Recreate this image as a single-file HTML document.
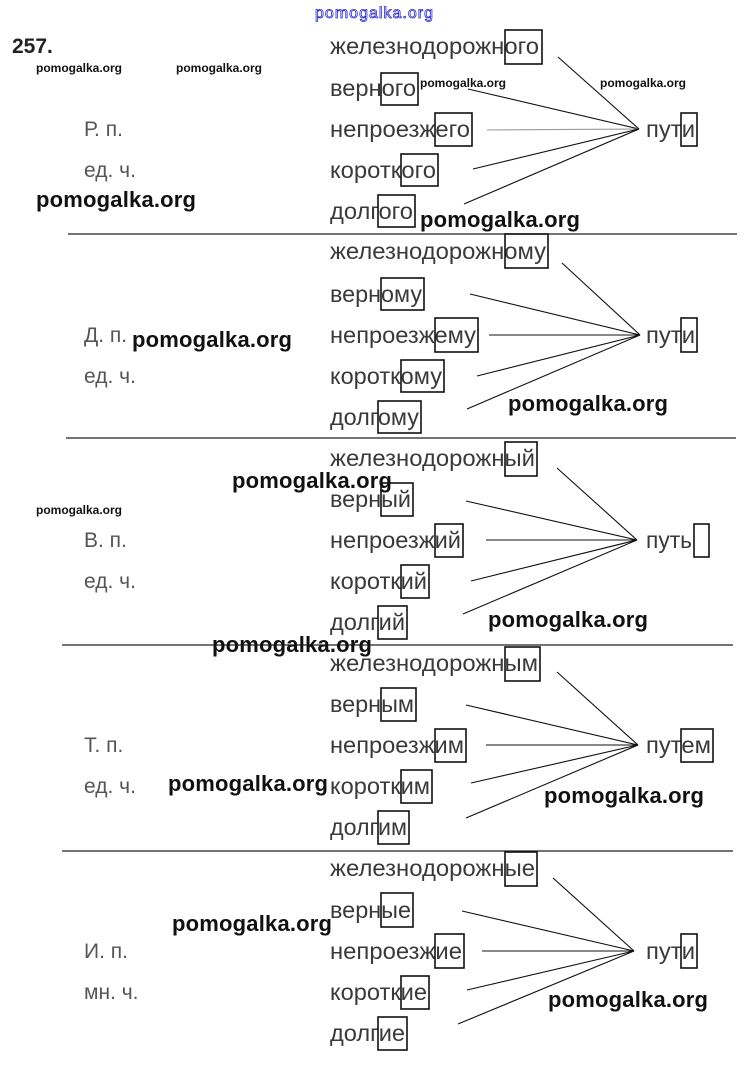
<!DOCTYPE html>
<html><head><meta charset="utf-8"><style>
html,body{margin:0;padding:0;background:#fff;width:746px;height:1066px;overflow:hidden}
svg{display:block}
.w{font-family:"Liberation Sans","DejaVu Sans",sans-serif;font-size:23px;fill:#3a3a3a}
.l{font-family:"Liberation Sans","DejaVu Sans",sans-serif;font-size:21px;fill:#555}
.b{fill:none;stroke:#111;stroke-width:1.6}
.ln{stroke:#111;stroke-width:1.1}
.m{font-family:"Liberation Sans",sans-serif;font-weight:bold;font-size:22px;fill:#111}
.s{font-family:"Liberation Sans",sans-serif;font-weight:bold;font-size:12px;fill:#111}
.sep{stroke:#222;stroke-width:1.2}
</style></head><body>
<svg width="746" height="1066" viewBox="0 0 746 1066" xmlns="http://www.w3.org/2000/svg">
<text x="315" y="18" font-family="Liberation Sans,sans-serif" font-size="16" fill="#fff" stroke="#2a2ad0" stroke-width="0.8" textLength="118">pomogalka.org</text>
<text x="12" y="53" font-family="Liberation Sans,sans-serif" font-weight="bold" font-size="21" fill="#222">257.</text>
<text class="s" x="36" y="72">pomogalka.org</text>
<text class="s" x="176" y="72">pomogalka.org</text>
<text class="s" x="420" y="87" font-size="13">pomogalka.org</text>
<text class="s" x="600" y="87" font-size="13">pomogalka.org</text>
<text class="s" x="36" y="514">pomogalka.org</text>

<line class="sep" x1="68" y1="234" x2="737" y2="234"/>
<line class="sep" x1="66" y1="438" x2="736" y2="438"/>
<line class="sep" x1="62" y1="645" x2="733" y2="645"/>
<line class="sep" x1="62" y1="851" x2="733" y2="851"/>

<text class="l" x="84" y="136">Р. п.</text>
<text class="l" x="84" y="177">ед. ч.</text>
<text class="w" x="330" y="54" textLength="209" lengthAdjust="spacingAndGlyphs">железнодорожного</text>
<text class="w" x="330" y="96" textLength="86" lengthAdjust="spacingAndGlyphs">верного</text>
<text class="w" x="330" y="137" textLength="140" lengthAdjust="spacingAndGlyphs">непроезжего</text>
<text class="w" x="330" y="178" textLength="106" lengthAdjust="spacingAndGlyphs">короткого</text>
<text class="w" x="330" y="219" textLength="83" lengthAdjust="spacingAndGlyphs">долгого</text>
<text class="w" x="646" y="137" textLength="49" lengthAdjust="spacingAndGlyphs">пути</text>
<rect class="b" x="505" y="30" width="37" height="34"/>
<rect class="b" x="381" y="73" width="37" height="32"/>
<rect class="b" x="435" y="113" width="37" height="33"/>
<rect class="b" x="401" y="154" width="37" height="32"/>
<rect class="b" x="378" y="195" width="37" height="32"/>
<rect class="b" x="681" y="113" width="16" height="33"/>
<line class="ln" x1="558" y1="57" x2="639" y2="129"/>
<line class="ln" x1="468" y1="89" x2="639" y2="129"/>
<line class="ln" x1="487" y1="130" x2="639" y2="129" style="stroke:#999"/>
<line class="ln" x1="473" y1="169" x2="639" y2="129"/>
<line class="ln" x1="464" y1="204" x2="639" y2="129"/>

<text class="l" x="84" y="342">Д. п.</text>
<text class="l" x="84" y="383">ед. ч.</text>
<text class="w" x="330" y="259" textLength="216" lengthAdjust="spacingAndGlyphs">железнодорожному</text>
<text class="w" x="330" y="302" textLength="92" lengthAdjust="spacingAndGlyphs">верному</text>
<text class="w" x="330" y="343" textLength="146" lengthAdjust="spacingAndGlyphs">непроезжему</text>
<text class="w" x="330" y="384" textLength="112" lengthAdjust="spacingAndGlyphs">короткому</text>
<text class="w" x="330" y="425" textLength="89" lengthAdjust="spacingAndGlyphs">долгому</text>
<text class="w" x="646" y="343" textLength="49" lengthAdjust="spacingAndGlyphs">пути</text>
<rect class="b" x="505" y="234" width="43" height="34"/>
<rect class="b" x="381" y="278" width="43" height="32"/>
<rect class="b" x="435" y="318" width="43" height="34"/>
<rect class="b" x="401" y="360" width="43" height="32"/>
<rect class="b" x="378" y="401" width="43" height="32"/>
<rect class="b" x="681" y="318" width="16" height="34"/>
<line class="ln" x1="562" y1="263" x2="640" y2="335"/>
<line class="ln" x1="470" y1="294" x2="640" y2="335"/>
<line class="ln" x1="489" y1="335" x2="640" y2="335"/>
<line class="ln" x1="477" y1="376" x2="640" y2="335"/>
<line class="ln" x1="467" y1="409" x2="640" y2="335"/>

<text class="l" x="84" y="547">В. п.</text>
<text class="l" x="84" y="588">ед. ч.</text>
<text class="w" x="330" y="466" textLength="205" lengthAdjust="spacingAndGlyphs">железнодорожный</text>
<text class="w" x="330" y="507" textLength="81" lengthAdjust="spacingAndGlyphs">верный</text>
<text class="w" x="330" y="548" textLength="131" lengthAdjust="spacingAndGlyphs">непроезжий</text>
<text class="w" x="330" y="589" textLength="97" lengthAdjust="spacingAndGlyphs">короткий</text>
<text class="w" x="330" y="630" textLength="75" lengthAdjust="spacingAndGlyphs">долгий</text>
<text class="w" x="646" y="548" textLength="46" lengthAdjust="spacingAndGlyphs">путь</text>
<rect class="b" x="505" y="442" width="32" height="34"/>
<rect class="b" x="381" y="483" width="32" height="33"/>
<rect class="b" x="435" y="524" width="28" height="33"/>
<rect class="b" x="401" y="565" width="28" height="33"/>
<rect class="b" x="378" y="606" width="29" height="33"/>
<rect class="b" x="694" y="524" width="15" height="33"/>
<line class="ln" x1="557" y1="468" x2="637" y2="540"/>
<line class="ln" x1="466" y1="501" x2="637" y2="540"/>
<line class="ln" x1="486" y1="540" x2="637" y2="540"/>
<line class="ln" x1="471" y1="581" x2="637" y2="540"/>
<line class="ln" x1="463" y1="614" x2="637" y2="540"/>

<text class="l" x="84" y="752">Т. п.</text>
<text class="l" x="84" y="793">ед. ч.</text>
<text class="w" x="330" y="671" textLength="208" lengthAdjust="spacingAndGlyphs">железнодорожным</text>
<text class="w" x="330" y="712" textLength="84" lengthAdjust="spacingAndGlyphs">верным</text>
<text class="w" x="330" y="753" textLength="134" lengthAdjust="spacingAndGlyphs">непроезжим</text>
<text class="w" x="330" y="794" textLength="100" lengthAdjust="spacingAndGlyphs">коротким</text>
<text class="w" x="330" y="835" textLength="77" lengthAdjust="spacingAndGlyphs">долгим</text>
<text class="w" x="646" y="753" textLength="65" lengthAdjust="spacingAndGlyphs">путем</text>
<rect class="b" x="505" y="647" width="35" height="34"/>
<rect class="b" x="381" y="688" width="35" height="33"/>
<rect class="b" x="435" y="729" width="31" height="33"/>
<rect class="b" x="401" y="770" width="31" height="33"/>
<rect class="b" x="378" y="811" width="31" height="33"/>
<rect class="b" x="681" y="729" width="32" height="33"/>
<line class="ln" x1="557" y1="672" x2="638" y2="745"/>
<line class="ln" x1="466" y1="705" x2="638" y2="745"/>
<line class="ln" x1="486" y1="745" x2="638" y2="745"/>
<line class="ln" x1="471" y1="783" x2="638" y2="745"/>
<line class="ln" x1="466" y1="818" x2="638" y2="745"/>

<text class="l" x="84" y="958">И. п.</text>
<text class="l" x="84" y="999">мн. ч.</text>
<text class="w" x="330" y="876" textLength="205" lengthAdjust="spacingAndGlyphs">железнодорожные</text>
<text class="w" x="330" y="918" textLength="81" lengthAdjust="spacingAndGlyphs">верные</text>
<text class="w" x="330" y="959" textLength="132" lengthAdjust="spacingAndGlyphs">непроезжие</text>
<text class="w" x="330" y="1000" textLength="97" lengthAdjust="spacingAndGlyphs">короткие</text>
<text class="w" x="330" y="1041" textLength="75" lengthAdjust="spacingAndGlyphs">долгие</text>
<text class="w" x="646" y="959" textLength="49" lengthAdjust="spacingAndGlyphs">пути</text>
<rect class="b" x="505" y="852" width="32" height="34"/>
<rect class="b" x="381" y="893" width="32" height="34"/>
<rect class="b" x="435" y="934" width="29" height="34"/>
<rect class="b" x="401" y="976" width="28" height="33"/>
<rect class="b" x="378" y="1017" width="29" height="33"/>
<rect class="b" x="681" y="934" width="16" height="34"/>
<line class="ln" x1="553" y1="878" x2="634" y2="951"/>
<line class="ln" x1="462" y1="911" x2="634" y2="951"/>
<line class="ln" x1="482" y1="951" x2="634" y2="951"/>
<line class="ln" x1="467" y1="990" x2="634" y2="951"/>
<line class="ln" x1="458" y1="1024" x2="634" y2="951"/>

<text class="m" x="36" y="207" textLength="160">pomogalka.org</text>
<text class="m" x="420" y="227" textLength="160">pomogalka.org</text>
<text class="m" x="132" y="347" textLength="160">pomogalka.org</text>
<text class="m" x="508" y="411" textLength="160">pomogalka.org</text>
<text class="m" x="232" y="488" textLength="160">pomogalka.org</text>
<text class="m" x="488" y="627" textLength="160">pomogalka.org</text>
<text class="m" x="212" y="652" textLength="160">pomogalka.org</text>
<text class="m" x="168" y="791" textLength="160">pomogalka.org</text>
<text class="m" x="544" y="803" textLength="160">pomogalka.org</text>
<text class="m" x="172" y="931" textLength="160">pomogalka.org</text>
<text class="m" x="548" y="1007" textLength="160">pomogalka.org</text>
</svg>
</body></html>
